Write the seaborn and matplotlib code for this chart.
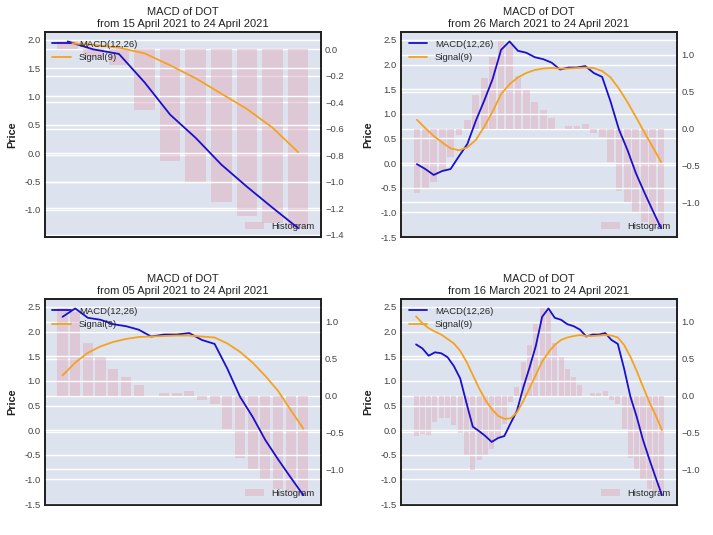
import numpy as np
import pandas as pd
import matplotlib
matplotlib.use("Agg")
import matplotlib.pyplot as plt
import seaborn as sns
from matplotlib.ticker import FormatStrFormatter

# MACD(12,26) of DOT, daily, 16 March 2021 .. 24 April 2021 (40 days)
macd = [1.74, 1.66, 1.51, 1.58, 1.56, 1.48, 1.30, 1.05, 0.55, 0.07,
        -0.02, -0.12, -0.24, -0.16, -0.12, 0.14, 0.39, 0.86, 1.27, 1.71,
        2.30, 2.47, 2.28, 2.24, 2.15, 2.11, 2.04, 1.90, 1.94, 1.94,
        1.97, 1.83, 1.75, 1.25, 0.68, 0.27, -0.20, -0.59, -0.96, -1.32]

# Histogram, same 40 days
hist = [-0.55, -0.52, -0.53, -0.36, -0.30, -0.30, -0.40, -0.51, -0.82, -1.01,
        -0.88, -0.80, -0.72, -0.56, -0.38, -0.09, 0.12, 0.46, 0.69, 0.97,
        1.18, 1.13, 0.71, 0.53, 0.36, 0.25, 0.14, 0.00, 0.04, 0.03,
        0.06, -0.06, -0.12, -0.46, -0.84, -1.00, -1.15, -1.26, -1.31, -1.35]

# Signal(9) lines, one per window
signal_10 = [1.94, 1.91, 1.86, 1.76, 1.55, 1.32, 1.05, 0.78, 0.45, 0.02]
signal_30 = [0.88, 0.71, 0.55, 0.42, 0.30, 0.26, 0.32, 0.47, 0.74, 1.05,
             1.40, 1.60, 1.74, 1.83, 1.89, 1.92, 1.93, 1.92, 1.92, 1.93,
             1.94, 1.93, 1.87, 1.74, 1.51, 1.24, 0.94, 0.63, 0.33, 0.02]
signal_20 = [1.11, 1.37, 1.57, 1.70, 1.79, 1.85, 1.89, 1.90, 1.91, 1.92,
             1.92, 1.90, 1.88, 1.76, 1.59, 1.37, 1.10, 0.80, 0.41, 0.03]
signal_40 = [2.31, 2.17, 2.07, 2.00, 1.94, 1.85, 1.76, 1.61, 1.39, 1.12,
             0.85, 0.61, 0.43, 0.29, 0.23, 0.24, 0.36, 0.59, 0.85, 1.12,
             1.39, 1.58, 1.73, 1.83, 1.88, 1.91, 1.93, 1.91, 1.91, 1.92,
             1.93, 1.92, 1.88, 1.73, 1.49, 1.20, 0.88, 0.57, 0.30, 0.00]

windows = [10, 30, 20, 40]
signals = [signal_10, signal_30, signal_20, signal_40]
start_dates = ["15 April 2021", "26 March 2021", "05 April 2021", "16 March 2021"]
end_date = "24 April 2021"

bg = "#dde3ee"
sns.set_theme(style="darkgrid", rc={
    "axes.facecolor": bg,
    "grid.color": "white",
    "grid.linewidth": 1.0,
    "axes.edgecolor": "#222222",
    "axes.linewidth": 1.3,
    "xtick.bottom": False,
    "ytick.left": False,
    "ytick.right": False,
    "ytick.major.size": 0,
    "xtick.major.size": 0,
})
plt.rcParams["font.family"] = ["Liberation Sans", "DejaVu Sans"]

fig, axes = plt.subplots(2, 2, figsize=(7.13, 5.35), dpi=100)
fig.subplots_adjust(left=0.063, right=0.9495, top=0.940, bottom=0.057,
                    wspace=0.29, hspace=0.30)

macd_color = "#1a0fcc"
signal_color = "#f5a21e"
hist_color = "#e2aec0"

for ax, n, sig, start in zip(axes.flat, windows, signals, start_dates):
    df = pd.DataFrame({"day": np.arange(n), "macd": macd[-n:],
                       "signal": sig, "hist": hist[-n:]})
    sns.lineplot(data=df, x="day", y="macd", ax=ax, color=macd_color,
                 linewidth=1.3, label="MACD(12,26)")
    sns.lineplot(data=df, x="day", y="signal", ax=ax, color=signal_color,
                 linewidth=1.3, label="Signal(9)")
    ax2 = ax.twinx()
    ax2.bar(df["day"], df["hist"], width=0.8, color=hist_color, alpha=0.5,
            linewidth=0, label="Histogram")

    # keep the lines above the bars
    ax.set_zorder(ax2.get_zorder() + 1)
    ax.patch.set_visible(False)
    ax2.patch.set_visible(True)
    ax2.patch.set_facecolor(bg)

    ax.set_title(f"MACD of DOT\nfrom {start} to {end_date}", fontsize=8,
                 color="#222222", pad=4)
    ax.set_xlabel("")
    ax.set_ylabel("Price", fontsize=7.8, fontweight="bold", color="#222222",
                  labelpad=5)
    ax.set_xticks([])
    ax.yaxis.set_major_formatter(FormatStrFormatter("%.1f"))
    ax.tick_params(axis="y", labelsize=6.8, labelcolor="#444444", pad=3,
                   length=0)
    ax2.tick_params(axis="y", labelsize=6.8, labelcolor="#444444", pad=3,
                    length=0, right=False)
    ax2.grid(True, axis="y", color="white", linewidth=1.0)
    ax2.grid(False, axis="x")
    for a in (ax, ax2):
        for s in a.spines.values():
            s.set_color("#222222")
            s.set_linewidth(1.3)

    ax.legend(loc="upper left", frameon=False, fontsize=6.8,
              handlelength=2.0, borderaxespad=0.4)
    ax2.legend(loc="lower right", frameon=False, fontsize=6.8,
               handlelength=2.0, borderaxespad=0.3)

fig.savefig("out.png", dpi=100)
